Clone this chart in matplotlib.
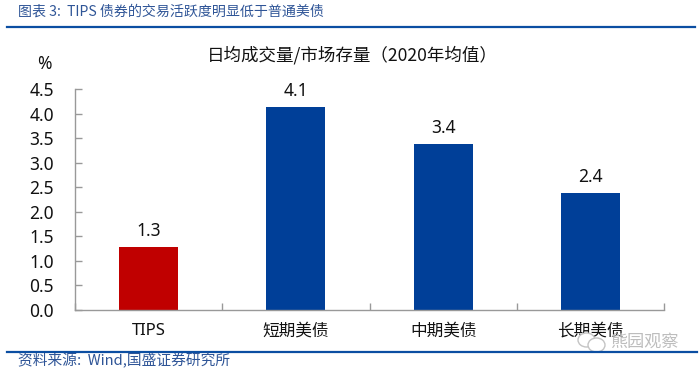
import matplotlib
matplotlib.use("Agg")
import matplotlib.pyplot as plt
from matplotlib.lines import Line2D
from matplotlib.patches import Ellipse

plt.rcParams['font.family'] = ['Noto Sans CJK SC', 'DejaVu Sans']

categories = ['TIPS', '短期美债', '中期美债', '长期美债']
values = [1.28, 4.13, 3.38, 2.38]
value_labels = ['1.3', '4.1', '3.4', '2.4']
bar_colors = ['#C00000', '#003F98', '#003F98', '#003F98']
y_ticks = [0.0, 0.5, 1.0, 1.5, 2.0, 2.5, 3.0, 3.5, 4.0, 4.5]
heading = '图表 3:  TIPS 债券的交易活跃度明显低于普通美债'
chart_title = '日均成交量/市场存量(2020年均值)'
source = '资料来源:  Wind,国盛证券研究所'
watermark = '熊园观察'

W, H = 700, 373
latin = ['Noto Sans', 'DejaVu Sans']
fig = plt.figure(figsize=(W / 100, H / 100), dpi=100, facecolor='white')
ax = fig.add_axes([75 / W, 1 - 310 / H, (664 - 75) / W, (310 - 89) / H])

x = list(range(len(categories)))
ax.bar(x, values, width=0.4, color=bar_colors)
ax.set_xlim(-0.5, 3.5)
ax.set_ylim(0, 4.5)
ax.set_yticks(y_ticks, [f'{v:.1f}' for v in y_ticks], fontsize=12.5, color='#111111', family=latin)
ax.set_xticks([-0.5, 0.5, 1.5, 2.5, 3.5], [''] * 5)
ax.tick_params(axis='y', direction='in', length=5, width=1, color='#999999', pad=15, left=True)
ax.tick_params(axis='x', direction='in', length=5, width=1, color='#999999')
for s in ('top', 'right'):
    ax.spines[s].set_visible(False)
for s in ('left', 'bottom'):
    ax.spines[s].set_color('#999999')
    ax.spines[s].set_linewidth(1)

for xi, v, lab in zip(x, values, value_labels):
    ax.annotate(lab, (xi, v), xytext=(0, 5), textcoords='offset points', ha='center', va='bottom',
                fontsize=12.5, color='#111111', family=latin)

for xi, c in zip(x, categories):
    ax.annotate(c, (xi, 0), xytext=(0, -15), textcoords='offset points', ha='center', va='center',
                fontsize=12, color='#111111', family=latin + ['Noto Sans CJK SC'] if c == 'TIPS' else None)

def fx(px): return px / W
def fy(py): return 1 - py / H

fig.text(fx(18), fy(12), heading, fontsize=10.1, style='italic', color='#2F5597', va='center')
fig.add_artist(Line2D([fx(7), fx(695)], [fy(26.5), fy(26.5)], color='#0B4EA2', lw=1.6))
fig.text(fx(352), fy(55), chart_title.replace('(', '（').replace(')', '）'), fontsize=12.6,
         color='#111111', ha='center', va='center')
fig.text(fx(44), fy(64), '%', fontsize=12.5, color='#111111', ha='center', va='center', family=latin)
fig.add_artist(Line2D([fx(7), fx(697)], [fy(351.5), fy(351.5)], color='#0B4EA2', lw=1.6))
fig.text(fx(18), fy(361), source, fontsize=10.6, style='italic', color='#2F5597', va='center')

fig.add_artist(Ellipse((fx(586.5), fy(340)), 17 / W, 14 / H, fc='white', ec='#C4C4C4', lw=1,
                       transform=fig.transFigure))
fig.add_artist(Ellipse((fx(596.5), fy(345)), 17 / W, 14 / H, fc='white', ec='#C4C4C4', lw=1,
                       transform=fig.transFigure))
fig.text(fx(644), fy(342), watermark, fontsize=12.3, color='#BDBDBD', ha='center', va='center')

fig.savefig('out.png', dpi=100)
